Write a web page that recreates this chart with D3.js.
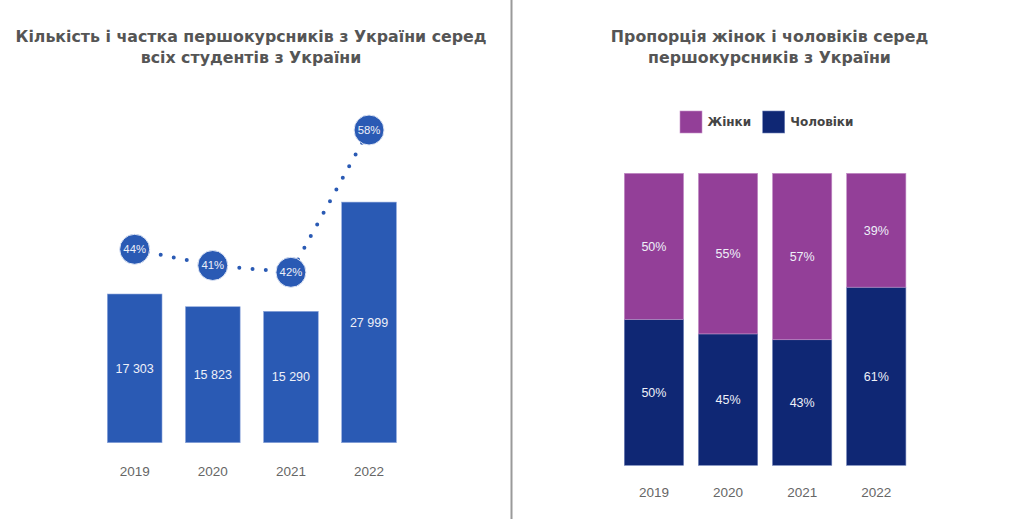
<!DOCTYPE html>
<html>
<head>
<meta charset="utf-8">
<script src="https://cdn.jsdelivr.net/npm/d3@7"></script>
<style>
  html, body { margin: 0; padding: 0; background: #fff; }
  svg { display: block; }
</style>
</head>
<body>
<svg id="chart" width="1024" height="519"></svg>
<script>
// ---- Data ----
const years = ["2019", "2020", "2021", "2022"];
const firstYearCounts = [17303, 15823, 15290, 27999];
const countLabels = ["17 303", "15 823", "15 290", "27 999"];
const sharePercent = [44.0, 42.1, 41.3, 58.0];   // plotted position
const shareLabels = ["44%", "41%", "42%", "58%"];
const womenPct = [50, 55, 57, 39];
const menPct = [50, 45, 43, 61];
const seriesNames = ["Жінки", "Чоловіки"];
const leftTitle = ["Кількість і частка першокурсників з України серед", "всіх студентів з України"];
const rightTitle = ["Пропорція жінок і чоловіків серед", "першокурсників з України"];

// ---- Styles ----
const blue = "#2a5ab4";
const purple = "#933f98";
const navy = "#0f2774";
const titleColor = "#555555";
const axisColor = "#666666";
const titleFont = "'DejaVu Sans', Verdana, sans-serif";
const bodyFont = "'Liberation Sans', Arial, sans-serif";

const svg = d3.select("#chart");

// Divider
svg.append("line")
  .attr("x1", 511.5).attr("x2", 511.5).attr("y1", 0).attr("y2", 519)
  .attr("stroke", "#9a9a9a").attr("stroke-width", 2);

function title(lines, cx, y0) {
  const t = svg.append("text")
    .attr("text-anchor", "middle")
    .attr("font-family", titleFont)
    .attr("font-weight", "bold")
    .attr("font-size", 15.8)
    .attr("fill", titleColor);
  lines.forEach((l, i) => {
    t.append("tspan").attr("x", cx).attr("y", y0 + i * 21).text(l);
  });
}
title(leftTitle, 251, 42);
title(rightTitle, 769.5, 42);

// ---- Left chart ----
const xL = d3.scaleBand().domain(years).range([95.6, 408.1]).paddingInner(0.3).paddingOuter(0.15);
const yL = d3.scaleLinear().domain([0, 30000]).range([442.7, 184.9]);
const yP = d3.scaleLinear().domain([44, 58]).range([249.3, 130]);

const gL = svg.append("g");
gL.selectAll("rect.bar").data(years).join("rect")
  .attr("class", "bar")
  .attr("x", d => xL(d))
  .attr("width", xL.bandwidth())
  .attr("y", (d, i) => yL(firstYearCounts[i]))
  .attr("height", (d, i) => yL(0) - yL(firstYearCounts[i]))
  .attr("fill", blue)
  .attr("stroke", "#8fa8dc").attr("stroke-width", 0.6);

gL.selectAll("text.val").data(years).join("text")
  .attr("class", "val")
  .attr("x", d => xL(d) + xL.bandwidth() / 2)
  .attr("y", (d, i) => (yL(firstYearCounts[i]) + yL(0)) / 2)
  .attr("dy", "0.35em")
  .attr("text-anchor", "middle")
  .attr("font-family", bodyFont).attr("font-size", 12.5)
  .attr("fill", "#eef0f8")
  .text((d, i) => countLabels[i]);

// x axis labels
const axL = d3.axisBottom(xL).tickSize(0).tickPadding(0);
const gAxL = gL.append("g").attr("transform", "translate(0,467)").call(axL);
gAxL.select(".domain").remove();
gAxL.selectAll("text").attr("font-family", bodyFont).attr("font-size", 13.5).attr("fill", axisColor).attr("dy", "0.35em").attr("y", 4.5);

// dotted share line
const line = d3.line()
  .x((d, i) => xL(years[i]) + xL.bandwidth() / 2)
  .y(d => yP(d));
gL.append("path")
  .datum(sharePercent)
  .attr("d", line)
  .attr("fill", "none")
  .attr("stroke", blue)
  .attr("stroke-width", 4)
  .attr("stroke-linecap", "round")
  .attr("stroke-dasharray", "0 13.3");

gL.selectAll("circle.share").data(sharePercent).join("circle")
  .attr("class", "share")
  .attr("cx", (d, i) => xL(years[i]) + xL.bandwidth() / 2)
  .attr("cy", d => yP(d))
  .attr("r", 15)
  .attr("fill", blue)
  .attr("stroke", "#dfe6f5").attr("stroke-width", 1);

gL.selectAll("text.share").data(sharePercent).join("text")
  .attr("class", "share")
  .attr("x", (d, i) => xL(years[i]) + xL.bandwidth() / 2)
  .attr("y", d => yP(d))
  .attr("dy", "0.35em")
  .attr("text-anchor", "middle")
  .attr("font-family", bodyFont).attr("font-size", 11.3)
  .attr("fill", "#eef0f8")
  .text((d, i) => shareLabels[i]);

// ---- Right chart ----
const xR = d3.scaleBand().domain(years).range([616.9, 913.3]).paddingInner(0.2).paddingOuter(0.1);
const yR = d3.scaleLinear().domain([0, 100]).range([465.3, 173.3]);

const rows = years.map((y, i) => ({ year: y, "Жінки": womenPct[i], "Чоловіки": menPct[i] }));
const stack = d3.stack().keys(["Чоловіки", "Жінки"]);
const stacked = stack(rows);
const colorR = d3.scaleOrdinal().domain(seriesNames).range([purple, navy]);
const strokeR = d3.scaleOrdinal().domain(seriesNames).range(["#c591c9", "#6f80b8"]);

const gR = svg.append("g");
const layer = gR.selectAll("g.layer").data(stacked).join("g")
  .attr("class", "layer");
layer.selectAll("rect").data(s => s.map(d => ({ d, key: s.key }))).join("rect")
  .attr("x", o => xR(o.d.data.year))
  .attr("width", xR.bandwidth())
  .attr("y", o => yR(o.d[1]))
  .attr("height", o => yR(o.d[0]) - yR(o.d[1]))
  .attr("fill", o => colorR(o.key))
  .attr("stroke", o => strokeR(o.key)).attr("stroke-width", 0.6);
layer.selectAll("text").data(s => s.map(d => ({ d, key: s.key }))).join("text")
  .attr("x", o => xR(o.d.data.year) + xR.bandwidth() / 2)
  .attr("y", o => (yR(o.d[0]) + yR(o.d[1])) / 2)
  .attr("dy", "0.35em")
  .attr("text-anchor", "middle")
  .attr("font-family", bodyFont).attr("font-size", 12.5)
  .attr("fill", "#eef0f8")
  .text(o => o.d.data[o.key] + "%");

const axR = d3.axisBottom(xR).tickSize(0).tickPadding(0);
const gAxR = gR.append("g").attr("transform", "translate(0,488)").call(axR);
gAxR.select(".domain").remove();
gAxR.selectAll("text").attr("font-family", bodyFont).attr("font-size", 13.5).attr("fill", axisColor).attr("dy", "0.35em").attr("y", 4.5);

// Legend
const legend = svg.append("g");
const legendX = [680, 762.7];
seriesNames.forEach((name, i) => {
  legend.append("rect")
    .attr("x", legendX[i]).attr("y", 111)
    .attr("width", 22).attr("height", 22)
    .attr("fill", colorR(name))
    .attr("stroke", strokeR(name)).attr("stroke-width", 0.6);
  legend.append("text")
    .attr("x", legendX[i] + 27.5).attr("y", 122)
    .attr("dy", "0.35em")
    .attr("font-family", titleFont).attr("font-weight", "bold")
    .attr("font-size", 12)
    .attr("fill", "#444")
    .text(name);
});
</script>
</body>
</html>
